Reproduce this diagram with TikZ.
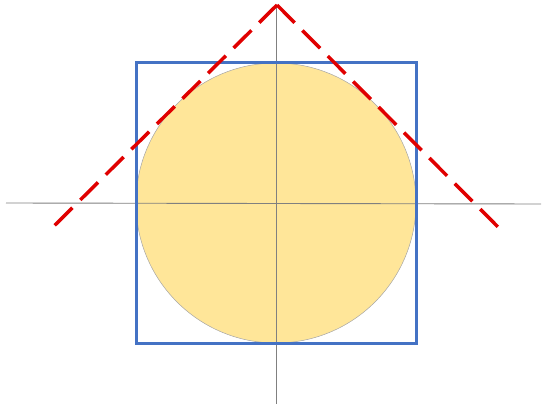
\documentclass[tikz,border=0pt]{standalone}
\usepackage{tikz}
\usetikzlibrary{positioning}

\definecolor{discfill}{HTML}{FFE699}
\definecolor{boxblue}{HTML}{4472C4}
\definecolor{conered}{HTML}{E00000}

\begin{document}
\begin{tikzpicture}[
  x=1pt, y=-1pt,
  axis/.style  = {draw=gray, line width=0.9pt},
  disc/.style  = {fill=discfill, draw=gray!70, line width=0.5pt},
  frame/.style = {draw=boxblue, line width=3pt},
  cone/.style  = {draw=conered, line width=3.5pt, dash pattern=on 25pt off 11pt},
]
\useasboundingbox (0,0) rectangle (544,409);

\coordinate (c) at (276,203);
\coordinate (apex) at (277,5);
\coordinate (lft) at (53,227);
\coordinate (rgt) at (499,228);

\fill[disc] (c) circle[radius=140];
\draw[axis] (6,203) -- (541,204);
\draw[axis] (276,5) -- (276,404);
\draw[frame] (136,63) rectangle (416,343);
\draw[cone] (apex) -- (lft);
\draw[cone] (apex) -- (rgt);

\end{tikzpicture}
\end{document}
